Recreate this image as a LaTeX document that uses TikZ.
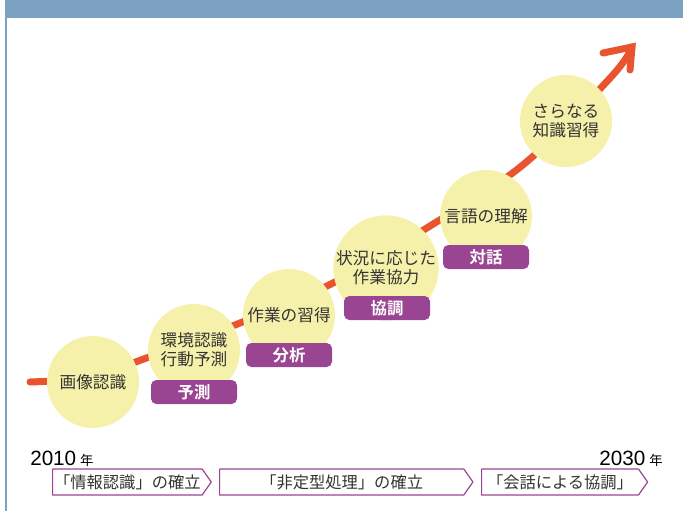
\documentclass[tikz,border=0pt]{standalone}
\usepackage{fontspec}
\setmainfont{Noto Sans CJK JP}[BoldFont={Noto Sans CJK JP Bold}]
\newfontfamily\yearfont{Liberation Sans}
\usetikzlibrary{shapes.symbols}
\definecolor{barblue}{HTML}{7DA1C0}
\definecolor{trendorange}{HTML}{E9542F}
\definecolor{bubbleyellow}{HTML}{F6F1AA}
\definecolor{tagpurple}{HTML}{9A4592}
\definecolor{inkgray}{HTML}{333333}
\begin{document}
\begin{tikzpicture}[x=0.75pt,y=-0.75pt,line cap=round,line join=round,
	bubble/.style={circle,fill=bubbleyellow,minimum size=69pt,inner sep=0pt,align=center,text=inkgray,font=\fontsize{12.5}{14.25}\selectfont},
	tagbox/.style={rounded corners=4pt,fill=tagpurple,minimum width=64.5pt,minimum height=18pt,inner sep=0pt,text=white,font=\fontsize{12.3}{14}\selectfont\bfseries},
	stagebox/.style={signal,signal to=east,signal pointer angle=110,draw=tagpurple,line width=0.9pt,fill=white,minimum height=19.5pt,inner sep=0pt,anchor=west,text=inkgray,font=\fontsize{12.2}{14}\selectfont},
	yearlabel/.style={inner sep=0pt,text=black,font=\yearfont\fontsize{15.5}{17}\selectfont}]
	\useasboundingbox (0,0) rectangle (683,511);
	% frame
	\fill[barblue] (5,0) rectangle (683,18);
	\draw[barblue,line width=1.5pt,line cap=butt] (6,18) -- (6,511);
	% trend line
	\coordinate (s0) at (30,382);
	\coordinate (s1) at (93,377);
	\coordinate (s2) at (141,360);
	\coordinate (s3) at (240,323);
	\coordinate (s4) at (333,283);
	\coordinate (s5) at (430,226);
	\coordinate (s6) at (524,164);
	\coordinate (s7) at (611,77);
	\coordinate (tip) at (632,47);
	\coordinate (hl) at (603,53);
	\coordinate (hr) at (630,70);
	\draw[trendorange,line width=5.25pt] plot[smooth,tension=.6] coordinates {(s0) (s1) (s2) (s3) (s4) (s5) (s6) (s7) (tip)};
	\draw[trendorange,line width=5.25pt,line join=miter] (hl) -- (tip) -- (hr);
	% steps
	\node[bubble] (b1) at (93,382) {画像認識};
	\node[bubble] (b2) at (194,350) {環境認識\\行動予測};
	\node[bubble] (b3) at (289,315) {作業の習得};
	\node[bubble] (b4) at (386,268) {状況に応じた\\作業協力};
	\node[bubble] (b5) at (486,216) {言語の理解};
	\node[bubble] (b6) at (566,121) {さらなる\\知識習得};
	\node[tagbox] (t2) at (194,392) {予測};
	\node[tagbox] (t3) at (289,355) {分析};
	\node[tagbox] (t4) at (387,308) {協調};
	\node[tagbox] (t5) at (486,257) {対話};
	% timeline
	\node[yearlabel,anchor=base west] (y1) at (30,465) {2010\hspace{3pt}{\normalfont\fontsize{10}{11}\selectfont 年}};
	\node[yearlabel,anchor=base east] (y2) at (663,465) {2030\hspace{3pt}{\normalfont\fontsize{10}{11}\selectfont 年}};
	\node[stagebox,minimum width=119pt] (p1) at (52,482) {「情報認識」の確立};
	\node[stagebox,minimum width=190pt] (p2) at (219,482) {「非定型処理」の確立};
	\node[stagebox,minimum width=124.5pt] (p3) at (481,482) {「会話による協調」};
\end{tikzpicture}
\end{document}
